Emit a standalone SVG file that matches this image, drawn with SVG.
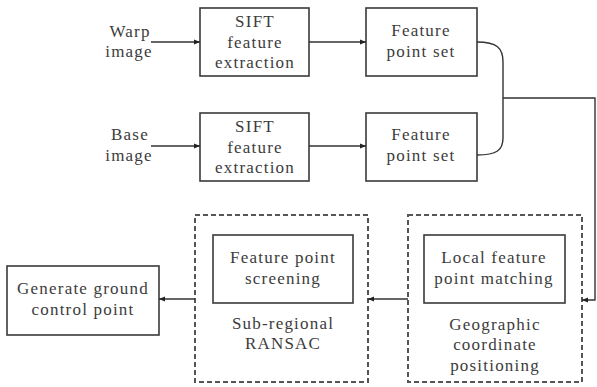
<svg xmlns="http://www.w3.org/2000/svg" width="597" height="387" viewBox="0 0 597 387">
<defs>
<style>
.box{fill:#fff;stroke:#3a3a3a;stroke-width:1.6}
.dash{fill:none;stroke:#555;stroke-width:2;stroke-dasharray:5 3}
.ln{fill:none;stroke:#333;stroke-width:1.4}
.t{font-family:'Liberation Serif','DejaVu Serif',serif;font-size:17px;fill:#3c3c3c;text-anchor:middle;letter-spacing:1.2px}
</style>
<marker id="ah" viewBox="0 0 10 10" refX="10" refY="5" markerWidth="6" markerHeight="6" orient="auto" markerUnits="userSpaceOnUse">
<path d="M0,1 L10,5 L0,9 z" fill="#222"/>
</marker>
</defs>
<rect width="597" height="387" fill="#fff"/>
<g class="t" font-family="Liberation Serif, DejaVu Serif, serif">
<g id="warp"><text x="130" y="37">Warp</text><text x="129" y="57">image</text></g>
<g id="base"><text x="130" y="140">Base</text><text x="129" y="161">image</text></g>
</g>
<g class="t" font-family="Liberation Serif, DejaVu Serif, serif">
<g id="sift1"><rect class="box" x="200" y="8" width="109" height="68"/><text x="255" y="27">SIFT</text><text x="255" y="48">feature</text><text x="255" y="68">extraction</text></g>
<g id="sift2"><rect class="box" x="200" y="113" width="109" height="68"/><text x="255" y="132">SIFT</text><text x="255" y="153">feature</text><text x="255" y="173">extraction</text></g>
<g id="fps1"><rect class="box" x="366" y="8" width="111" height="68"/><text x="421" y="36">Feature</text><text x="421" y="57">point set</text></g>
<g id="fps2"><rect class="box" x="366" y="113" width="111" height="68"/><text x="421" y="140">Feature</text><text x="421" y="161">point set</text></g>
<g id="geo"><rect class="dash" x="408" y="215" width="174" height="167"/><rect class="box" x="424" y="235" width="141" height="68"/><text x="494" y="263">Local feature</text><text x="494" y="284">point matching</text><text x="495" y="330">Geographic</text><text x="495" y="350">coordinate</text><text x="495" y="371">positioning</text></g>
<g id="ransac"><rect class="dash" x="195" y="215" width="173" height="167"/><rect class="box" x="213" y="235" width="140" height="68"/><text x="283" y="263">Feature point</text><text x="283" y="284">screening</text><text x="283" y="329">Sub-regional</text><text x="283" y="349">RANSAC</text></g>
<g id="gcp"><rect class="box" x="7" y="266" width="152" height="69"/><text x="83" y="294">Generate ground</text><text x="83" y="315">control point</text></g>
</g>
<g id="connectors">
<line class="ln" x1="151" y1="42" x2="200" y2="42" marker-end="url(#ah)"/>
<line class="ln" x1="151" y1="146" x2="200" y2="146" marker-end="url(#ah)"/>
<line class="ln" x1="309" y1="42" x2="366" y2="42" marker-end="url(#ah)"/>
<line class="ln" x1="309" y1="146" x2="366" y2="146" marker-end="url(#ah)"/>
<path class="ln" d="M477,42 C497,42 503,48 503,62 L503,138 C503,150 497,155 477,155"/>
<path class="ln" d="M503,98 L595,98 L595,300 L582,300" marker-end="url(#ah)"/>
<line class="ln" x1="408" y1="299" x2="368" y2="299" marker-end="url(#ah)"/>
<line class="ln" x1="195" y1="299" x2="159" y2="299" marker-end="url(#ah)"/>
</g>
</svg>
